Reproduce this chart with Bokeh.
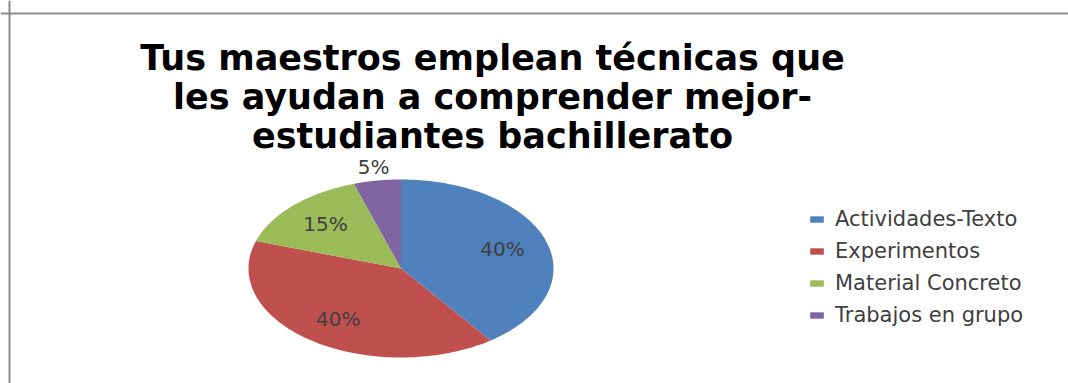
import numpy as np
from bokeh.plotting import figure
from bokeh.models import Range1d, Span, Legend, LegendItem, ColumnDataSource
from bokeh.core.properties import value
from bokeh.embed import file_html
from bokeh.resources import INLINE

# ---- data ----
CATEGORIES = ["Actividades-Texto", "Experimentos", "Material Concreto", "Trabajos en grupo"]
PERCENTS = [40, 40, 15, 5]
COLORS = ["#4F81BD", "#C0504D", "#9BBB59", "#8064A2"]
TITLE_LINES = ["Tus maestros emplean técnicas que",
               "les ayudan a comprender mejor-",
               "estudiantes bachillerato"]

# ---- layout ----
W, H = 1068, 383
CX, CY, RX, RY = 400.5, 268.0, 152.5, 89.0

p = figure(width=W, height=H, x_range=Range1d(0, W), y_range=Range1d(H, 0),
           output_backend="svg", toolbar_location=None, min_border=0,
           x_axis_type=None, y_axis_type=None)
p.grid.visible = False
p.outline_line_color = None
p.background_fill_color = "white"
p.border_fill_color = "white"

# pie slices (elliptical), clockwise from top
vals = np.array(PERCENTS, dtype=float)
fracs = vals / vals.sum()
cum = np.concatenate([[0.0], np.cumsum(fracs)])
xs, ys, lx, ly, ltxt = [], [], [], [], []
for i in range(len(vals)):
    t = np.linspace(cum[i], cum[i + 1], 120) * 2 * np.pi
    xs.append(np.concatenate([[CX], CX + RX * np.sin(t)]))
    ys.append(np.concatenate([[CY], CY - RY * np.cos(t)]))
    mid = (cum[i] + cum[i + 1]) * np.pi
    f = 0.70 if fracs[i] >= 0.1 else 1.15
    lx.append(CX + f * RX * np.sin(mid))
    ly.append(CY - f * RY * np.cos(mid))
    ltxt.append(f"{PERCENTS[i]}%")

src = ColumnDataSource(dict(xs=xs, ys=ys, color=COLORS, label=CATEGORIES))
r = p.patches("xs", "ys", source=src, fill_color="color", line_color=None)

p.text(x=lx, y=ly, text=ltxt, text_align="center", text_baseline="middle",
       text_font=value("DejaVu Sans"), text_font_size="20px", text_color="#404040")

# title
p.text(x=[492] * 3, y=[57, 96, 135], text=TITLE_LINES, text_align="center",
       text_baseline="alphabetic", text_font=value("DejaVu Sans"),
       text_font_style="bold", text_font_size="35px", text_color="#000000")

# border (top and left edges of chart area)
p.add_layout(Span(location=13, dimension="width", line_color="#8c8c8c", line_width=2))
p.add_layout(Span(location=9, dimension="height", line_color="#8c8c8c", line_width=2))

legend = Legend(items=[LegendItem(label=c, renderers=[r], index=i) for i, c in enumerate(CATEGORIES)],
                location=(808, 56), glyph_width=17, glyph_height=8, label_standoff=10,
                spacing=8, padding=0, margin=0, border_line_color=None,
                background_fill_alpha=0, label_text_font="DejaVu Sans",
                label_text_font_size="21px", label_text_color="#404040", label_height=20)
p.add_layout(legend)

open("out.html", "w").write(file_html(p, INLINE))
